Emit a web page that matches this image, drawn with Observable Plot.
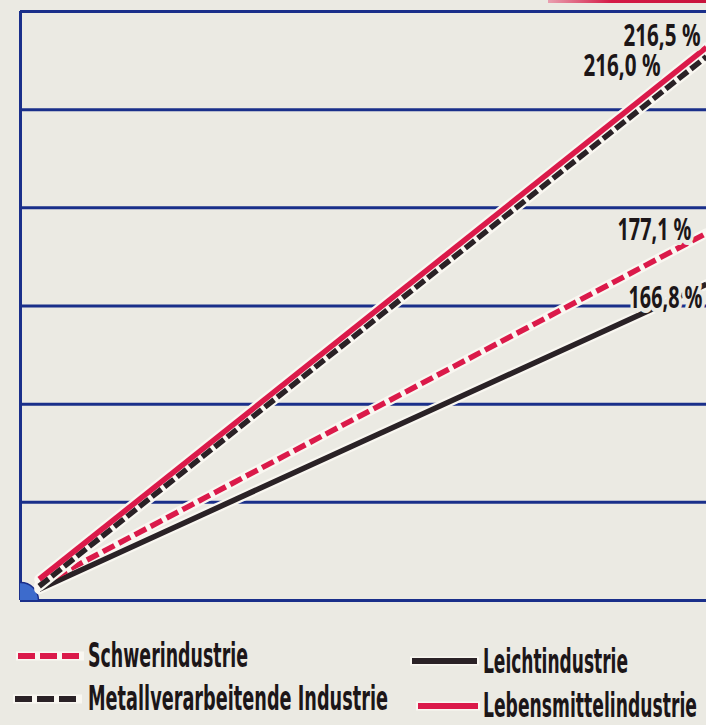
<!DOCTYPE html>
<html><head><meta charset="utf-8">
<script src="https://cdn.jsdelivr.net/npm/d3@7"></script>
<script src="https://cdn.jsdelivr.net/npm/@observablehq/plot@0.6"></script>
<style>
html,body{margin:0;padding:0;}
body{background:#ebeae3;width:706px;height:725px;overflow:hidden;position:relative;
 font-family:"Liberation Sans Narrow","DejaVu Sans Condensed","Roboto Condensed",Roboto,sans-serif;}
#chart{position:absolute;left:0;top:0;}
#topbar{position:absolute;left:548px;top:0;width:158px;height:3px;background:linear-gradient(90deg,#e9a0b0,#d41a45 40%,#c8143c);}
.lg{position:absolute;font-weight:bold;color:#1c1618;font-size:33px;line-height:1;white-space:nowrap;transform-origin:0 0;}
.sw{position:absolute;}
</style></head><body>
<div id="chart"></div>
<div id="topbar"></div>
<div id="legend"></div>
<script>
// ---- data ----
const series = ["Schwerindustrie", "Leichtindustrie", "Metallverarbeitende Industrie", "Lebensmittelindustrie"];
const startValues = [100, 100, 100, 100];
const endValues = [177.1, 166.8, 216.0, 216.5];
const endLabels = ["177,1 %", "166,8 %", "216,0 %", "216,5 %"];
const periods = [0, 1];
const gridValues = [96, 117.5, 139, 160.5, 182, 203.5, 225];
const xDomain = [-0.028, 1];

const rows = series.flatMap((s, i) => [
  {series: s, t: periods[0], v: startValues[i], label: endLabels[i]},
  {series: s, t: periods[1], v: endValues[i], label: endLabels[i]}
]);
const sel = s => rows.filter(d => d.series === s);
const endOf = s => rows.filter(d => d.series === s && d.t === periods[1]);

const red = "#db1a4a", dark = "#2a2226", blue = "#1a2f8a", halo = "#f9f7f1", bg = "#ebeae3";

const haloMark = (s, dy) => Plot.line(sel(s), {x: "t", y: "v", stroke: halo, strokeWidth: 10, dy});
const lineMark = (s, stroke, dash, dy) =>
  Plot.line(sel(s), {x: "t", y: "v", stroke, strokeWidth: 5.5, strokeDasharray: dash, dy, strokeLinecap: "butt"});
const labelMark = (s, dx, dy) => Plot.text(endOf(s), {
  x: "t", y: "v", text: "label", dx, dy, textAnchor: "end",
  fontSize: 31, fontWeight: "bold", fill: "#1c1618",
  stroke: bg, strokeWidth: 10, paintOrder: "stroke"
});

const chart = Plot.plot({
  width: 706, height: 612,
  marginLeft: 20, marginRight: 0, marginTop: 11, marginBottom: 12,
  style: {background: "transparent"},
  x: {domain: xDomain, axis: null},
  y: {domain: [gridValues[0], gridValues[gridValues.length - 1]], axis: null},
  marks: [
    Plot.ruleY(gridValues, {stroke: blue, strokeWidth: 3}),
    Plot.ruleX([xDomain[0]], {stroke: blue, strokeWidth: 3}),
    Plot.dot([{t: xDomain[0], v: gridValues[0]}], {x: "t", y: "v", r: 18, fill: "#3d6bcc", stroke: blue, strokeWidth: 1.5, clip: true}),
    haloMark("Leichtindustrie", 7),
    haloMark("Schwerindustrie", 3),
    lineMark("Leichtindustrie", dark, null, 7),
    lineMark("Schwerindustrie", red, "13,5", 3),
    haloMark("Metallverarbeitende Industrie", 4),
    haloMark("Lebensmittelindustrie", -3),
    lineMark("Metallverarbeitende Industrie", dark, "12,4", 4),
    lineMark("Lebensmittelindustrie", red, null, -3),
    labelMark("Lebensmittelindustrie", -6, -14),
    labelMark("Metallverarbeitende Industrie", -46, 13),
    labelMark("Schwerindustrie", -15, 0),
    labelMark("Leichtindustrie", -4, 21)
  ]
});
document.getElementById("chart").appendChild(chart);

// fit label widths (condensed print lettering)
const labelWidths = [77, 77, 74, 74];
const texts = chart.querySelectorAll('g[aria-label="text"] text');
texts.forEach((t, i) => {
  t.setAttribute("textLength", labelWidths[i]);
  t.setAttribute("lengthAdjust", "spacingAndGlyphs");
});

// ---- legend ----
const legendItems = [
  {name: series[0], stroke: red, dash: "17,5", sx: 18, sy: 656, sw: 64, tx: 88, ty: 639, tw: 160},
  {name: series[1], stroke: dark, dash: null, sx: 412, sy: 661, sw: 65, tx: 483, ty: 645, tw: 145},
  {name: series[2], stroke: dark, dash: "17,5", sx: 15, sy: 699, sw: 65, tx: 88, ty: 682, tw: 300},
  {name: series[3], stroke: red, dash: null, sx: 418, sy: 706, sw: 60, tx: 483, ty: 689, tw: 214}
];
const lg = document.getElementById("legend");
legendItems.forEach(it => {
  const svg = d3.create("svg").attr("class", "sw").attr("width", it.sw + 4).attr("height", 12)
    .style("left", (it.sx - 2) + "px").style("top", (it.sy - 6) + "px");
  svg.append("line").attr("x1", 0).attr("x2", it.sw + 4).attr("y1", 6).attr("y2", 6)
    .attr("stroke", halo).attr("stroke-width", 9);
  svg.append("line").attr("x1", 2).attr("x2", it.sw + 2).attr("y1", 6).attr("y2", 6)
    .attr("stroke", it.stroke).attr("stroke-width", 6).attr("stroke-dasharray", it.dash);
  lg.appendChild(svg.node());
  const d = document.createElement("div");
  d.className = "lg";
  d.textContent = it.name;
  d.style.left = it.tx + "px";
  d.style.top = it.ty + "px";
  lg.appendChild(d);
  const w = d.getBoundingClientRect().width;
  d.style.transform = `scaleX(${it.tw / w})`;
});
</script>
</body></html>
